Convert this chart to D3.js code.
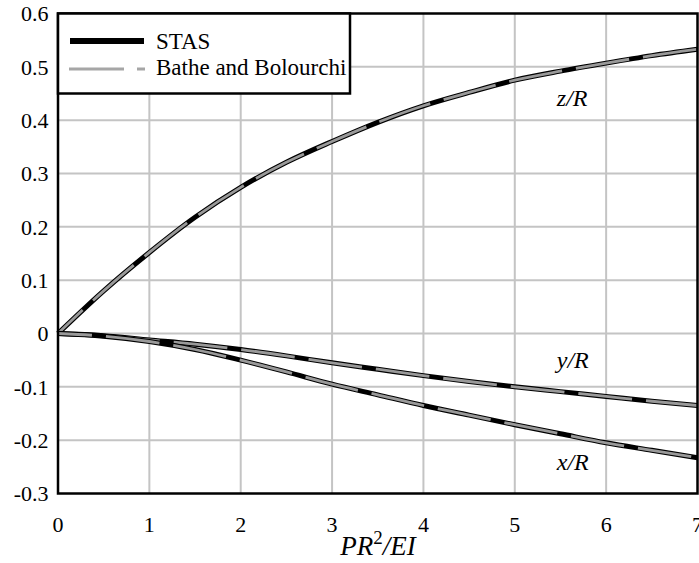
<!DOCTYPE html>
<html>
<head>
<meta charset="utf-8">
<script src="https://cdn.jsdelivr.net/npm/d3@7"></script>
<style>
  body { margin: 0; background: #fff; }
</style>
</head>
<body>
<svg width="699" height="563"></svg>
<script>
const load = [0, 0.5, 1, 1.5, 2, 2.5, 3, 3.5, 4, 4.5, 5, 5.5, 6, 6.5, 7];
const zR = [0, 0.08, 0.152, 0.218, 0.274, 0.321, 0.36, 0.396, 0.427, 0.452, 0.475, 0.492, 0.507, 0.521, 0.533];
const yR = [0, -0.004, -0.012, -0.02, -0.03, -0.042, -0.055, -0.067, -0.079, -0.09, -0.1, -0.109, -0.118, -0.127, -0.135];
const xR = [0, -0.005, -0.015, -0.03, -0.05, -0.072, -0.095, -0.115, -0.135, -0.153, -0.171, -0.188, -0.205, -0.219, -0.233];
const xTicks = [0, 1, 2, 3, 4, 5, 6, 7];
const yTicks = [-0.3, -0.2, -0.1, 0, 0.1, 0.2, 0.3, 0.4, 0.5, 0.6];
const curves = [
  { name: "z/R", values: zR, label: [5.46, 0.426] },
  { name: "y/R", values: yR, label: [5.46, -0.065] },
  { name: "x/R", values: xR, label: [5.46, -0.256] }
];

const svg = d3.select("svg").attr("font-family", "'Liberation Serif', 'Times New Roman', serif");
const pLeft = 58, pRight = 697.5, pTop = 13.5, pBottom = 493.5;

const x = d3.scaleLinear().domain([0, 7]).range([pLeft, pRight]);
const y = d3.scaleLinear().domain([-0.3, 0.6]).range([pBottom, pTop]);

// grid
svg.append("g").selectAll("line").data(xTicks.slice(1, -1)).enter().append("line")
  .attr("x1", d => x(d)).attr("x2", d => x(d)).attr("y1", pTop).attr("y2", pBottom)
  .attr("stroke", "#c4c4c4").attr("stroke-width", 2);
svg.append("g").selectAll("line").data(yTicks.slice(1, -1)).enter().append("line")
  .attr("x1", pLeft).attr("x2", pRight).attr("y1", d => y(d)).attr("y2", d => y(d))
  .attr("stroke", "#c4c4c4").attr("stroke-width", 2);

// curves
const line = d3.line().x((d, i) => x(load[i])).y(d => y(d)).curve(d3.curveMonotoneX);
const cg = svg.append("g");
curves.forEach(c => {
  cg.append("path").attr("d", line(c.values)).attr("fill", "none")
    .attr("stroke", "#000").attr("stroke-width", 5);
  cg.append("path").attr("d", line(c.values)).attr("fill", "none")
    .attr("stroke", "#999").attr("stroke-width", 2.8)
    .attr("stroke-dasharray", "54,14").attr("stroke-dashoffset", 20);
  cg.append("text").attr("x", x(c.label[0])).attr("y", y(c.label[1]))
    .attr("font-size", 24).attr("font-style", "italic").text(c.name);
});

// frame
svg.append("rect").attr("x", pLeft).attr("y", pTop).attr("width", pRight - pLeft).attr("height", pBottom - pTop)
  .attr("fill", "none").attr("stroke", "#000").attr("stroke-width", 2.5);

// axes labels
svg.append("g").selectAll("text").data(xTicks).enter().append("text")
  .attr("x", d => x(d)).attr("y", 532).attr("text-anchor", "middle")
  .attr("font-size", 22).text(d => d);
svg.append("g").selectAll("text").data(yTicks).enter().append("text")
  .attr("x", 48.5).attr("y", d => y(d) + 7.7).attr("text-anchor", "end")
  .attr("font-size", 22).text(d => d === 0 ? "0" : d.toFixed(1));

const title = svg.append("text").attr("x", 378).attr("y", 555).attr("text-anchor", "middle")
  .attr("font-size", 27).attr("font-style", "italic");
title.append("tspan").text("PR");
title.append("tspan").attr("dy", -11).attr("font-size", 19).attr("font-style", "normal").text("2");
title.append("tspan").attr("dy", 11).text("/EI");

// legend
const lg = svg.append("g");
lg.append("rect").attr("x", pLeft).attr("y", pTop).attr("width", 292).attr("height", 80)
  .attr("fill", "#fff").attr("stroke", "#000").attr("stroke-width", 2.5);
lg.append("line").attr("x1", 70).attr("x2", 144).attr("y1", 41).attr("y2", 41)
  .attr("stroke", "#000").attr("stroke-width", 6);
lg.append("line").attr("x1", 69).attr("x2", 145).attr("y1", 69).attr("y2", 69)
  .attr("stroke", "#a6a6a6").attr("stroke-width", 3).attr("stroke-dasharray", "55,13");
lg.append("text").attr("x", 156).attr("y", 48.5).attr("font-size", 23).text("STAS");
lg.append("text").attr("x", 156).attr("y", 75).attr("font-size", 23).text("Bathe and Bolourchi");
</script>
</body>
</html>
